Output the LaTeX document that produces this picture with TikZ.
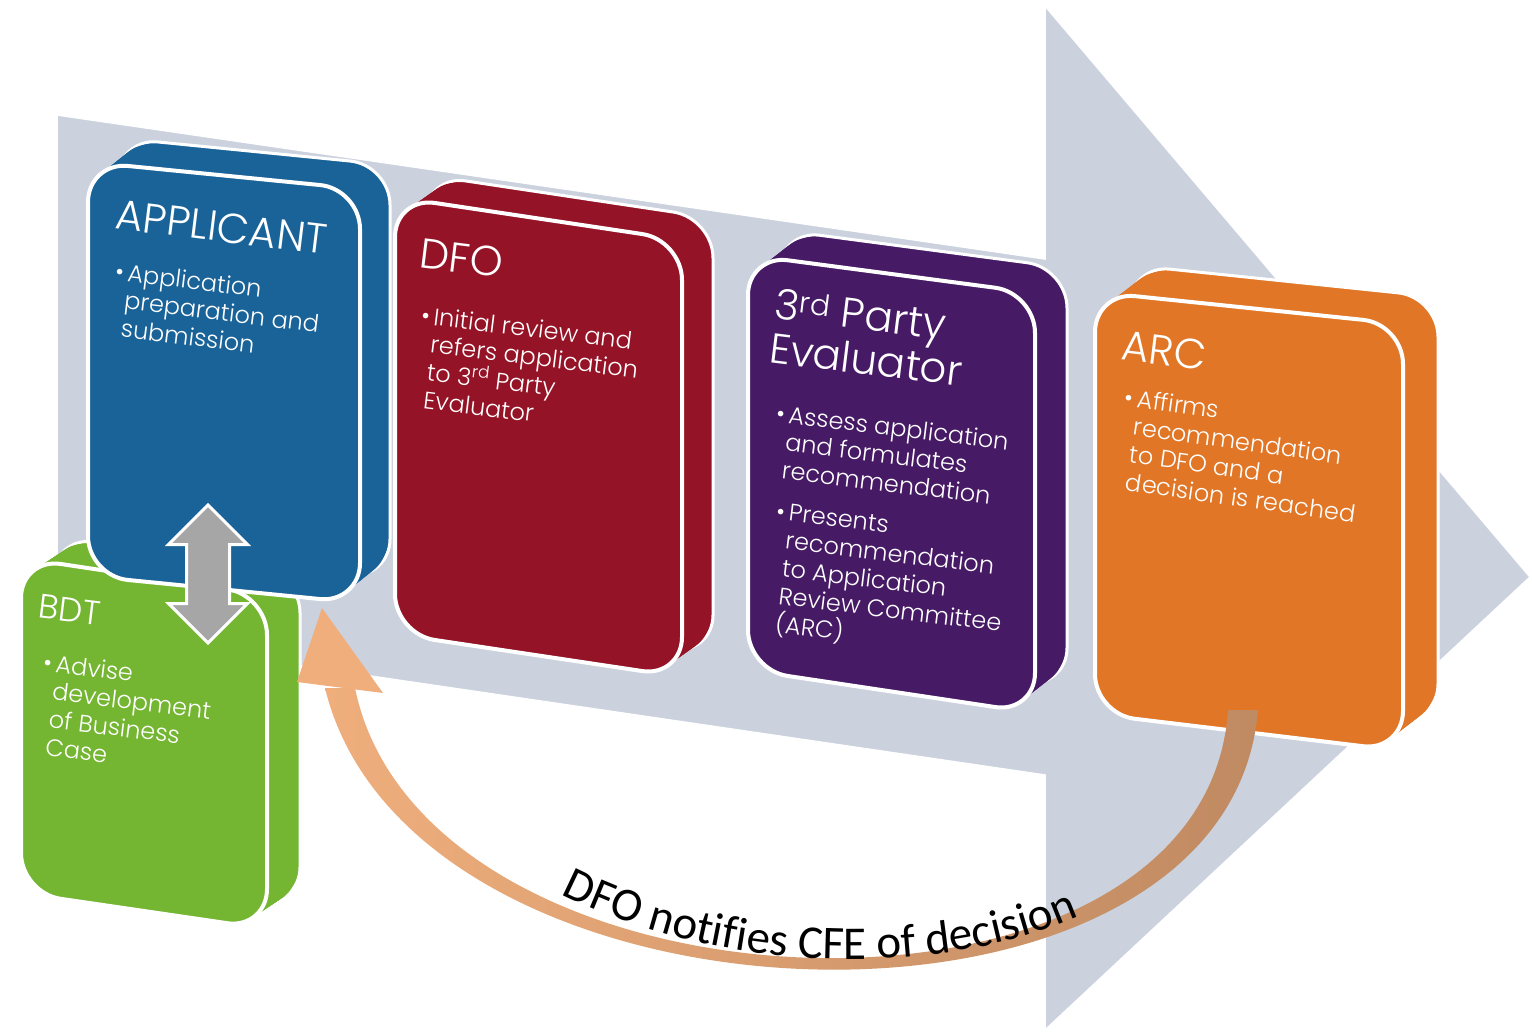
\documentclass[tikz,border=0pt]{standalone}
\usepackage{fontspec}
\setmainfont{Poppins Light}
\newfontfamily\carlito{Carlito}
\usetikzlibrary{shapes.arrows,decorations.text}

\definecolor{flowgray}{RGB}{203,210,222}
\definecolor{appblue}{RGB}{26,99,153}
\definecolor{dfored}{RGB}{149,19,38}
\definecolor{evalpurple}{RGB}{70,26,100}
\definecolor{arcorange}{RGB}{224,118,38}
\definecolor{bdtgreen}{RGB}{116,181,50}
\definecolor{linkgray}{RGB}{166,166,166}
\definecolor{notelight}{RGB}{239,174,124}
\definecolor{notedark}{RGB}{192,138,98}

\tikzset{
  cardside/.style={rounded corners=40pt},
  cardface/.style={draw=white, line width=4pt, rounded corners=40pt},
  cardtitle/.style={text=white, anchor=north west, rotate=-7, inner sep=0pt, align=left, font=\fontsize{42}{44}\selectfont},
  cardtext/.style={text=white, anchor=north west, rotate=-7, inner sep=0pt, align=left, font=\fontsize{24}{28}\selectfont},
  linkarrow/.style={double arrow, rotate=90, fill=linkgray, draw=white, line width=3pt, minimum height=138pt, minimum width=77pt, inner sep=20pt, double arrow head extend=18pt},
}

% card with depth: colour, depth offset x, y, then the four front corners
\newcommand{\flowcard}[7]{%
  \filldraw[fill=#1, draw=white, line width=3pt, cardside, shift={(#2,#3)}] #4 -- #5 -- #6 -- #7 -- cycle;
  \foreach \s in {0.9,0.8,...,0.1}
    \fill[#1, cardside, shift={(\s*#2,\s*#3)}] #4 -- #5 -- #6 -- #7 -- cycle;
  \filldraw[fill=#1, cardface] #4 -- #5 -- #6 -- #7 -- cycle;
}

\begin{document}
\begin{tikzpicture}[x=1pt, y=-1pt]
\useasboundingbox (0,0) rectangle (1532,1034);
% Big arrow
\filldraw[fill=flowgray, draw=white, line width=1.5pt] (57,115) -- (1045,259) -- (1045,6) -- (1530,577) -- (1045,1030) -- (1045,775) -- (57,630) -- cycle;
% Cards
\flowcard{bdtgreen}{33}{-22}{(21,558)}{(267,595)}{(267,929)}{(21,893)}
\flowcard{appblue}{30}{-24}{(88,162)}{(360,189)}{(360,603)}{(88,576)}
\flowcard{dfored}{31}{-22}{(395,197)}{(682,240)}{(682,677)}{(395,634)}
\flowcard{evalpurple}{32}{-25}{(748,255)}{(1035,293)}{(1035,713)}{(748,670)}
\flowcard{arcorange}{35}{-27}{(1095,292)}{(1403,324)}{(1403,751)}{(1095,714)}
% Titles
\node[cardtitle] (apptitle) at (118,199) {APPLICANT};
\node[cardtitle] (dfotitle) at (422,238) {DFO};
\node[cardtitle] (evaltitle) at (777,288) {3\textsuperscript{rd} Party\\Evaluator};
\node[cardtitle] (arctitle) at (1124,330) {ARC};
\node[cardtitle, font=\fontsize{34}{36}\selectfont] (bdttitle) at (40,594) {BDT};
% Bullets
\node[cardtext] (apptext) at (129,263) {\llap{\textbullet\,}Application\\preparation and\\submission};
\node[cardtext] (dfotext) at (435,307) {\llap{\textbullet\,}Initial review and\\refers application\\to 3\textsuperscript{rd} Party\\Evaluator};
\node[cardtext] (evaltextA) at (790,405) {\llap{\textbullet\,}Assess application\\and formulates\\recommendation};
\node[cardtext] (evaltextB) at (790,504) {\llap{\textbullet\,}Presents\\recommendation\\to Application\\Review Committee\\(ARC)};
\node[cardtext, rotate=-1] (arctext) at (1139,389) {\llap{\textbullet\,}Affirms\\recommendation\\to DFO and a\\decision is reached};
\node[cardtext] (bdttext) at (57,654) {\llap{\textbullet\,}Advise\\development\\of Business\\Case};
% Link between BDT and applicant
\node[linkarrow] (link) at (208,574) {};
% Decision arrow back to applicant
\coordinate (arcfoot) at (1243,710);
\coordinate (appfoot) at (340,688);
\shade[left color=notelight, middle color=notelight!55!notedark, right color=notedark]
  ([xshift=15pt]arcfoot) .. controls (1228,1072) and (412,1047) .. ([xshift=-15pt]appfoot)
  -- ([xshift=15pt]appfoot) .. controls (425,1030) and (1205,1058) .. ([xshift=-15pt]arcfoot) -- cycle;
\fill[notelight] ([shift={(-43,-6)}]appfoot) -- ([shift={(-18,-80)}]appfoot) -- ([shift={(43,5)}]appfoot) -- cycle;
\path[decorate, decoration={text along path, text align=center,
  text={|\carlito\fontsize{47}{47}\selectfont|DFO notifies CFE of decision}}]
  (390,692) .. controls (455,1030) and (1215,1058) .. (1242,714);
\end{tikzpicture}
\end{document}
